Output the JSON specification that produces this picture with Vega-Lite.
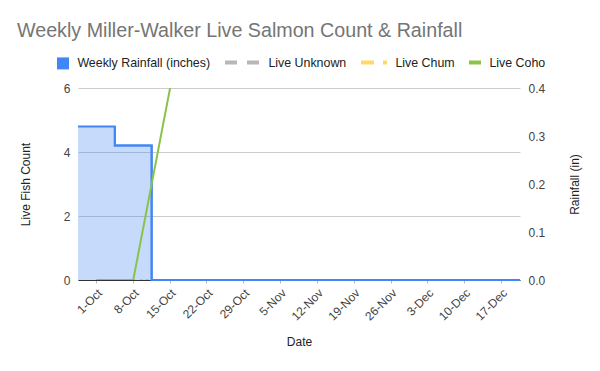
{
  "$schema": "https://vega.github.io/schema/vega-lite/v6.json",
  "width": 442,
  "height": 192,
  "autosize": {"type": "none"},
  "padding": {"left": 78, "top": 88, "right": 80, "bottom": 91},
  "background": "white",
  "title": {
    "text": "Weekly Miller-Walker Live Salmon Count & Rainfall",
    "anchor": "start",
    "frame": "group",
    "dx": -61,
    "fontSize": 19.7,
    "font": "Liberation Sans",
    "fontWeight": "normal",
    "color": "#757575",
    "offset": 15
  },
  "config": {
    "font": "Liberation Sans",
    "view": {"stroke": null},
    "axis": {"labelFont": "Liberation Sans", "titleFont": "Liberation Sans", "labelColor": "#444444", "titleColor": "#222222", "labelFontSize": 12, "titleFontSize": 12, "titleFontWeight": "normal"},
    "legend": {"labelFont": "Liberation Sans", "labelFontSize": 12.4, "labelColor": "#222222"}
  },
  "data": {
    "values": [
      {"week": "1-Oct", "rain": 0.32, "Live Unknown": 0, "Live Chum": 0, "Live Coho": 0},
      {"week": "8-Oct", "rain": 0.28, "Live Unknown": 0, "Live Chum": 0, "Live Coho": 0},
      {"week": "15-Oct", "rain": 0, "Live Unknown": 0, "Live Chum": 0, "Live Coho": 6},
      {"week": "22-Oct", "rain": 0, "Live Unknown": null, "Live Chum": null, "Live Coho": null},
      {"week": "29-Oct", "rain": 0, "Live Unknown": null, "Live Chum": null, "Live Coho": null},
      {"week": "5-Nov", "rain": 0, "Live Unknown": null, "Live Chum": null, "Live Coho": null},
      {"week": "12-Nov", "rain": 0, "Live Unknown": null, "Live Chum": null, "Live Coho": null},
      {"week": "19-Nov", "rain": 0, "Live Unknown": null, "Live Chum": null, "Live Coho": null},
      {"week": "26-Nov", "rain": 0, "Live Unknown": null, "Live Chum": null, "Live Coho": null},
      {"week": "3-Dec", "rain": 0, "Live Unknown": null, "Live Chum": null, "Live Coho": null},
      {"week": "10-Dec", "rain": 0, "Live Unknown": null, "Live Chum": null, "Live Coho": null},
      {"week": "17-Dec", "rain": 0, "Live Unknown": null, "Live Chum": null, "Live Coho": null}
    ]
  },
  "encoding": {
    "x": {
      "field": "week",
      "type": "ordinal",
      "sort": null,
      "scale": {"type": "band", "paddingInner": 0, "paddingOuter": 0},
      "axis": {
        "title": "Date",
        "labelAngle": -45,
        "labelPadding": 4,
        "titlePadding": 14,
        "domainColor": "#333333",
        "tickColor": "#bbbbbb",
        "tickSize": 3,
        "grid": false
      }
    }
  },
  "layer": [
    {
      "mark": {"type": "area", "interpolate": "step-after", "opacity": 0.3, "fill": "#4285F4"},
      "encoding": {
        "x": {"field": "week", "type": "ordinal", "sort": null, "bandPosition": 0},
        "y": {
          "field": "rain",
          "type": "quantitative",
          "scale": {"domain": [0, 0.4]},
          "axis": {"orient": "right", "title": "Rainfall (in)", "titleAngle": -90, "values": [0, 0.1, 0.2, 0.3, 0.4], "format": ".1f", "grid": false, "domain": false, "ticks": false, "labelPadding": 8, "titlePadding": 37}
        },
        "color": {
          "datum": "Weekly Rainfall (inches)",
          "scale": {
            "domain": ["Weekly Rainfall (inches)", "Live Unknown", "Live Chum", "Live Coho"],
            "range": ["#4285F4", "#B7B7B7", "#FFD966", "#8BC34A"]
          },
          "legend": {
            "orient": "none",
            "legendX": -21,
            "legendY": -32,
            "padding": 0,
            "direction": "horizontal",
            "title": null,
            "symbolType": "stroke",
            "symbolSize": 144,
            "symbolStrokeWidth": 4,
            "symbolOpacity": 1,
            "labelOffset": 8,
            "columnPadding": 6,
            "encode": {
              "symbols": {
                "update": {
                  "shape": {"signal": "datum.value === 'Weekly Rainfall (inches)' ? 'square' : 'stroke'"},
                  "size": {"signal": "datum.value === 'Live Unknown' ? 1225 : datum.value === 'Live Chum' ? 676 : 144"},
                  "x": {"signal": "datum.value === 'Live Unknown' ? 17.5 : datum.value === 'Live Chum' ? 13 : datum.value === 'Live Coho' ? -3 : 6"},
                  "strokeDash": {"signal": "datum.value === 'Live Unknown' ? [12,10] : datum.value === 'Live Chum' ? [13,9,4,9] : [1,0]"},
                  "fill": {"signal": "scale('color', datum.value)"},
                  "stroke": {"signal": "scale('color', datum.value)"},
                  "strokeWidth": {"signal": "datum.value === 'Weekly Rainfall (inches)' ? 0 : 4"},
                  "opacity": {"value": 1}
                }
              },
              "labels": {
                "update": {
                  "dx": {"signal": "datum.value === 'Live Unknown' ? 23 : datum.value === 'Live Chum' ? 14 : datum.value === 'Live Coho' ? -9 : 0"}
                }
              }
            }
          }
        }
      }
    },
    {
      "transform": [
        {"fold": ["Live Unknown", "Live Chum"], "as": ["series", "count"]}
      ],
      "mark": {"type": "line", "strokeWidth": 2, "clip": true},
      "encoding": {
        "x": {"field": "week", "type": "ordinal", "sort": null, "bandPosition": 0.5},
        "y": {
          "field": "count",
          "type": "quantitative",
          "scale": {"domain": [0, 6]},
          "axis": {"orient": "left", "title": "Live Fish Count", "values": [0, 2, 4, 6], "grid": true, "gridColor": "#cccccc", "domain": false, "ticks": false, "labelPadding": 8, "titlePadding": 31}
        },
        "color": {"field": "series", "type": "nominal", "title": null},
        "strokeDash": {
          "field": "series",
          "type": "nominal",
          "scale": {"domain": ["Live Unknown", "Live Chum"], "range": [[4, 3], [5, 3, 2, 3]]},
          "legend": null
        }
      }
    },
    {
      "mark": {"type": "line", "interpolate": "step-after", "strokeWidth": 2, "stroke": "#4285F4"},
      "encoding": {
        "x": {"field": "week", "type": "ordinal", "sort": null, "bandPosition": 0},
        "y": {"field": "rain", "type": "quantitative", "scale": {"domain": [0, 0.4]}, "axis": null},
        "color": {"datum": "Weekly Rainfall (inches)"}
      }
    },
    {
      "mark": {"type": "line", "interpolate": "step-before", "strokeWidth": 2, "stroke": "#4285F4"},
      "encoding": {
        "x": {"field": "week", "type": "ordinal", "sort": null, "bandPosition": 1},
        "y": {"field": "rain", "type": "quantitative", "scale": {"domain": [0, 0.4]}, "axis": null},
        "color": {"datum": "Weekly Rainfall (inches)"}
      }
    },
    {
      "transform": [
        {"fold": ["Live Coho"], "as": ["series", "count"]}
      ],
      "mark": {"type": "line", "strokeWidth": 2, "clip": true},
      "encoding": {
        "x": {"field": "week", "type": "ordinal", "sort": null, "bandPosition": 0.5},
        "y": {"field": "count", "type": "quantitative", "scale": {"domain": [0, 6]}, "axis": null},
        "color": {"field": "series", "type": "nominal", "title": null}
      }
    }
  ],
  "resolve": {"scale": {"y": "independent"}}
}
